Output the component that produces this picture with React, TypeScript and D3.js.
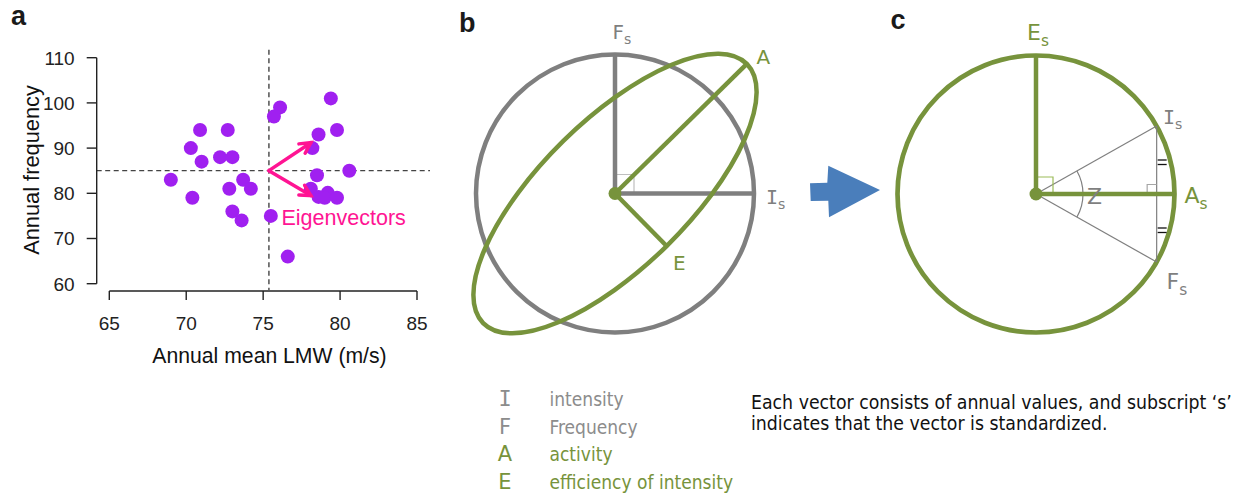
import React from 'react';
import * as d3 from 'd3';

// Panel a: annual mean lifetime-maximum wind (m/s) vs annual frequency
const lmw = [79.4, 76.1, 75.7, 70.9, 72.7, 79.8, 78.6, 70.3, 78.2, 71.0, 72.2, 73.0, 80.6, 69.0, 73.7, 74.2, 72.8, 78.5, 78.1, 70.4, 78.6, 79.2, 79.0, 79.8, 73.0, 73.6, 75.5, 76.6];
const freq = [101, 99, 97, 94, 94, 94, 93, 90, 90, 87, 88, 88, 85, 83, 83, 81, 81, 84, 81, 79, 79.2, 80.1, 79, 79, 76, 74, 75, 66];
const xTicks = [65, 70, 75, 80, 85];
const yTicks = [60, 70, 80, 90, 100, 110];
// tips of the two eigenvector arrows (data units), drawn from the mean point
const eigenTipX = [78.1, 78.1];
const eigenTipY = [91.2, 79.5];

// Panel b/c geometry in standardized units (circle radius = 1)
const ellipseMajor = 1.33; // activity direction
const ellipseMinor = 0.53; // efficiency of intensity direction
const ellipseAngleDeg = 44.5;
const halfAngleZDeg = 29.4;

// Legend and note
const legendSymbols = ['I', 'F', 'A', 'E'];
const legendNames = ['intensity', 'Frequency', 'activity', 'efficiency of intensity'];
const legendKinds = ['gray', 'gray', 'green', 'green'];
const noteLines = [
  'Each vector consists of annual values, and subscript \u2018s\u2019',
  'indicates that the vector is standardized.',
];

const GREEN = '#77933C';
const GRAY = '#7F7F7F';
const PURPLE = '#A020F0';
const PINK = '#FF1493';
const SANS = "'Liberation Sans', Arial, sans-serif";
const VERD = "'DejaVu Sans', Verdana, sans-serif";
const COND = "'DejaVu Sans Condensed', 'DejaVu Sans', sans-serif";
const MONO = "'DejaVu Sans Mono', monospace";

function Sub({ x, y, main, sub, color, size, mono }: any) {
  return (
    <text x={x} y={y} fill={color} fontFamily={mono ? MONO : VERD} fontSize={size}>
      {main}
      <tspan fontFamily={VERD} fontSize={size * 0.7} dy={size * 0.25}>{sub}</tspan>
    </text>
  );
}

function PanelA() {
  const x = d3.scaleLinear().domain([65, 85]).range([109.3, 417]);
  const y = d3.scaleLinear().domain([60, 110]).range([283.7, 57.7]);
  const axisX = 96.7;
  const axisY = 291;
  const mx = d3.mean(lmw) as number;
  const my = d3.mean(freq) as number;
  const ox = x(mx), oy = y(my);

  const arrowHead = (tx: number, ty: number) => {
    const ang = Math.atan2(ty - oy, tx - ox);
    const L = 12, w = (28 * Math.PI) / 180;
    const p1 = [tx - L * Math.cos(ang - w), ty - L * Math.sin(ang - w)];
    const p2 = [tx - L * Math.cos(ang + w), ty - L * Math.sin(ang + w)];
    return `M${p1[0]},${p1[1]}L${tx},${ty}L${p2[0]},${p2[1]}`;
  };

  return (
    <g>
      <text x={11} y={25} fontFamily={SANS} fontWeight="bold" fontSize={27} fill="#1a1a1a">a</text>
      {/* mean lines */}
      <line x1={ox} x2={ox} y1={y(110) - 8} y2={axisY - 1} stroke="#444" strokeWidth={1.4} strokeDasharray="5,3.5" />
      <line x1={axisX} x2={x(85) + 13} y1={oy} y2={oy} stroke="#444" strokeWidth={1.4} strokeDasharray="5,3.5" />
      {/* y axis */}
      <line x1={axisX} x2={axisX} y1={y(60)} y2={y(110)} stroke="#222" strokeWidth={1.4} />
      {yTicks.map((t) => (
        <g key={'y' + t}>
          <line x1={axisX - 10} x2={axisX} y1={y(t)} y2={y(t)} stroke="#222" strokeWidth={1.4} />
          <text x={axisX - 22} y={y(t)} dy="0.36em" textAnchor="end" fontFamily={SANS} fontSize={19} fill="#222">{t}</text>
        </g>
      ))}
      {/* x axis */}
      <line x1={x(65)} x2={x(85)} y1={axisY} y2={axisY} stroke="#222" strokeWidth={1.4} />
      {xTicks.map((t) => (
        <g key={'x' + t}>
          <line x1={x(t)} x2={x(t)} y1={axisY} y2={axisY + 9} stroke="#222" strokeWidth={1.4} />
          <text x={x(t)} y={330} textAnchor="middle" fontFamily={SANS} fontSize={19} fill="#222">{t}</text>
        </g>
      ))}
      <text x={269.5} y={363} textAnchor="middle" fontFamily={SANS} fontSize={21.2} fill="#111">Annual mean LMW (m/s)</text>
      <text transform="translate(38.5,170) rotate(-90)" textAnchor="middle" fontFamily={SANS} fontSize={21.8} fill="#111">Annual frequency</text>
      {/* points */}
      {lmw.map((v, i) => (
        <circle key={i} cx={x(v)} cy={y(freq[i])} r={7} fill={PURPLE} />
      ))}
      {/* eigenvectors */}
      {eigenTipX.map((tv, i) => {
        const tx = x(tv), ty = y(eigenTipY[i]);
        return (
          <g key={'e' + i} stroke={PINK} strokeWidth={3.5} fill="none" strokeLinecap="round">
            <line x1={ox} y1={oy} x2={tx} y2={ty} />
            <path d={arrowHead(tx, ty)} />
          </g>
        );
      })}
      <text x={281.5} y={225} fontFamily={SANS} fontSize={21.5} fill={PINK}>Eigenvectors</text>
    </g>
  );
}

function PanelB() {
  const cx = 615, cy = 193.5, R = 139;
  const u = d3.scaleLinear().domain([0, 1]).range([0, R]);
  const a = (ellipseAngleDeg * Math.PI) / 180;
  const Ax = cx + u(ellipseMajor) * Math.cos(a), Ay = cy - u(ellipseMajor) * Math.sin(a);
  const Ex = cx + u(ellipseMinor) * Math.sin(a), Ey = cy + u(ellipseMinor) * Math.cos(a);
  const sq = 19;
  return (
    <g>
      <text x={459} y={31.5} fontFamily={SANS} fontWeight="bold" fontSize={27} fill="#1a1a1a">b</text>
      <circle cx={cx} cy={cy} r={u(1)} fill="none" stroke={GRAY} strokeWidth={4.5} />
      <path d={`M${cx},${cy - sq}H${cx + sq}V${cy}`} fill="none" stroke="#BFBFBF" strokeWidth={1.2} />
      <line x1={cx} y1={cy} x2={cx} y2={cy - u(1)} stroke={GRAY} strokeWidth={4.5} />
      <line x1={cx} y1={cy} x2={cx + u(1)} y2={cy} stroke={GRAY} strokeWidth={4.5} />
      <ellipse cx={0} cy={0} rx={u(ellipseMajor)} ry={u(ellipseMinor)}
        transform={`translate(${cx},${cy}) rotate(${-ellipseAngleDeg})`}
        fill="none" stroke={GREEN} strokeWidth={4.5} />
      <line x1={cx} y1={cy} x2={Ax} y2={Ay} stroke={GREEN} strokeWidth={4.5} />
      <line x1={cx} y1={cy} x2={Ex} y2={Ey} stroke={GREEN} strokeWidth={4.5} />
      <circle cx={cx} cy={cy} r={6.5} fill={GREEN} />
      <Sub x={612.5} y={39} main="F" sub="s" color={GRAY} size={20} />
      <text x={756.5} y={63.5} fontFamily={VERD} fontSize={20} fill={GREEN}>A</text>
      <Sub x={766} y={204} main="I" sub="s" color={GRAY} size={20} mono />
      <text x={673} y={270} fontFamily={VERD} fontSize={20} fill={GREEN}>E</text>
    </g>
  );
}

function PanelC() {
  const cx = 1036, cy = 194, R = 138.5;
  const u = d3.scaleLinear().domain([0, 1]).range([0, R]);
  const z = (halfAngleZDeg * Math.PI) / 180;
  const ix = cx + u(Math.cos(z)), iy = cy - u(Math.sin(z));
  const fy = cy + u(Math.sin(z));
  const arcR = 47;
  const arc = d3.arc()({
    innerRadius: arcR, outerRadius: arcR,
    startAngle: Math.PI / 2 - z, endAngle: Math.PI / 2 + z,
  } as any) as string;
  const midTop = (iy + cy) / 2, midBot = (fy + cy) / 2;
  const sq = 17, sq2 = 9.5;
  return (
    <g>
      <text x={890.5} y={29.3} fontFamily={SANS} fontWeight="bold" fontSize={27} fill="#1a1a1a">c</text>
      {/* arrow from b to c */}
      <polygon points="810,183.3 827.3,182.7 828.3,165.7 880,190 829,217.3 828.3,200.7 810.7,201" fill="#4A7EBB" />
      <circle cx={cx} cy={cy} r={u(1)} fill="none" stroke={GREEN} strokeWidth={4.7} />
      <line x1={cx} y1={cy} x2={ix} y2={iy} stroke={GRAY} strokeWidth={1.2} />
      <line x1={cx} y1={cy} x2={ix} y2={fy} stroke={GRAY} strokeWidth={1.2} />
      <line x1={ix} y1={iy} x2={ix} y2={fy} stroke={GRAY} strokeWidth={1.2} />
      <path d={arc} transform={`translate(${cx},${cy})`} fill="none" stroke={GRAY} strokeWidth={1.2} />
      <path d={`M${cx},${cy - sq}H${cx + sq}V${cy}`} fill="none" stroke="#9BBB59" strokeWidth={1.2} />
      <path d={`M${ix - sq2},${cy}V${cy - sq2}H${ix}`} fill="none" stroke="#A6A6A6" strokeWidth={1.2} />
      {[midTop, midBot].map((m, i) => (
        <g key={i} stroke="#111" strokeWidth={1.3}>
          <line x1={ix + 1} x2={ix + 10} y1={m} y2={m} />
          <line x1={ix + 1} x2={ix + 10} y1={m + 4.5} y2={m + 4.5} />
        </g>
      ))}
      <line x1={cx} y1={cy} x2={cx} y2={cy - u(1)} stroke={GREEN} strokeWidth={4.5} />
      <line x1={cx} y1={cy} x2={cx + u(1) - 1} y2={cy} stroke={GREEN} strokeWidth={4.5} />
      <circle cx={cx} cy={cy} r={6.5} fill={GREEN} />
      <Sub x={1027} y={40} main="E" sub="s" color={GREEN} size={22} />
      <Sub x={1163} y={123.5} main="I" sub="s" color={GRAY} size={20} mono />
      <Sub x={1184.5} y={203.3} main="A" sub="s" color={GREEN} size={22} />
      <Sub x={1166.5} y={289} main="F" sub="s" color={GRAY} size={22} />
      <text x={1087} y={204} fontFamily={VERD} fontSize={22} fill={GRAY}>Z</text>
    </g>
  );
}

function Legend() {
  const baselines = [405.7, 434.3, 461, 489];
  const colorOf = (k: string) => (k === 'green' ? GREEN : '#8C8C8C');
  return (
    <g>
      {legendSymbols.map((s, i) => (
        <g key={s} fill={colorOf(legendKinds[i])}>
          <text x={505} y={baselines[i]} textAnchor="middle" fontFamily={s === 'I' ? MONO : VERD} fontSize={s === 'I' ? 22 : 21}>{s}</text>
          <text x={549.5} y={baselines[i]} fontFamily={COND} fontStretch="condensed" fontSize={19}>{legendNames[i]}</text>
        </g>
      ))}
      {noteLines.map((l, i) => (
        <text key={i} x={751} y={409 + i * 21} fontFamily={COND} fontStretch="condensed" fontSize={19.3} fill="#111">{l}</text>
      ))}
    </g>
  );
}

export default function App() {
  return (
    <svg width={1240} height={493} style={{ position: 'absolute', left: 0, top: 0, background: '#fff' }}>
      <rect width={1240} height={493} fill="#fff" />
      <PanelA />
      <PanelB />
      <PanelC />
      <Legend />
    </svg>
  );
}
